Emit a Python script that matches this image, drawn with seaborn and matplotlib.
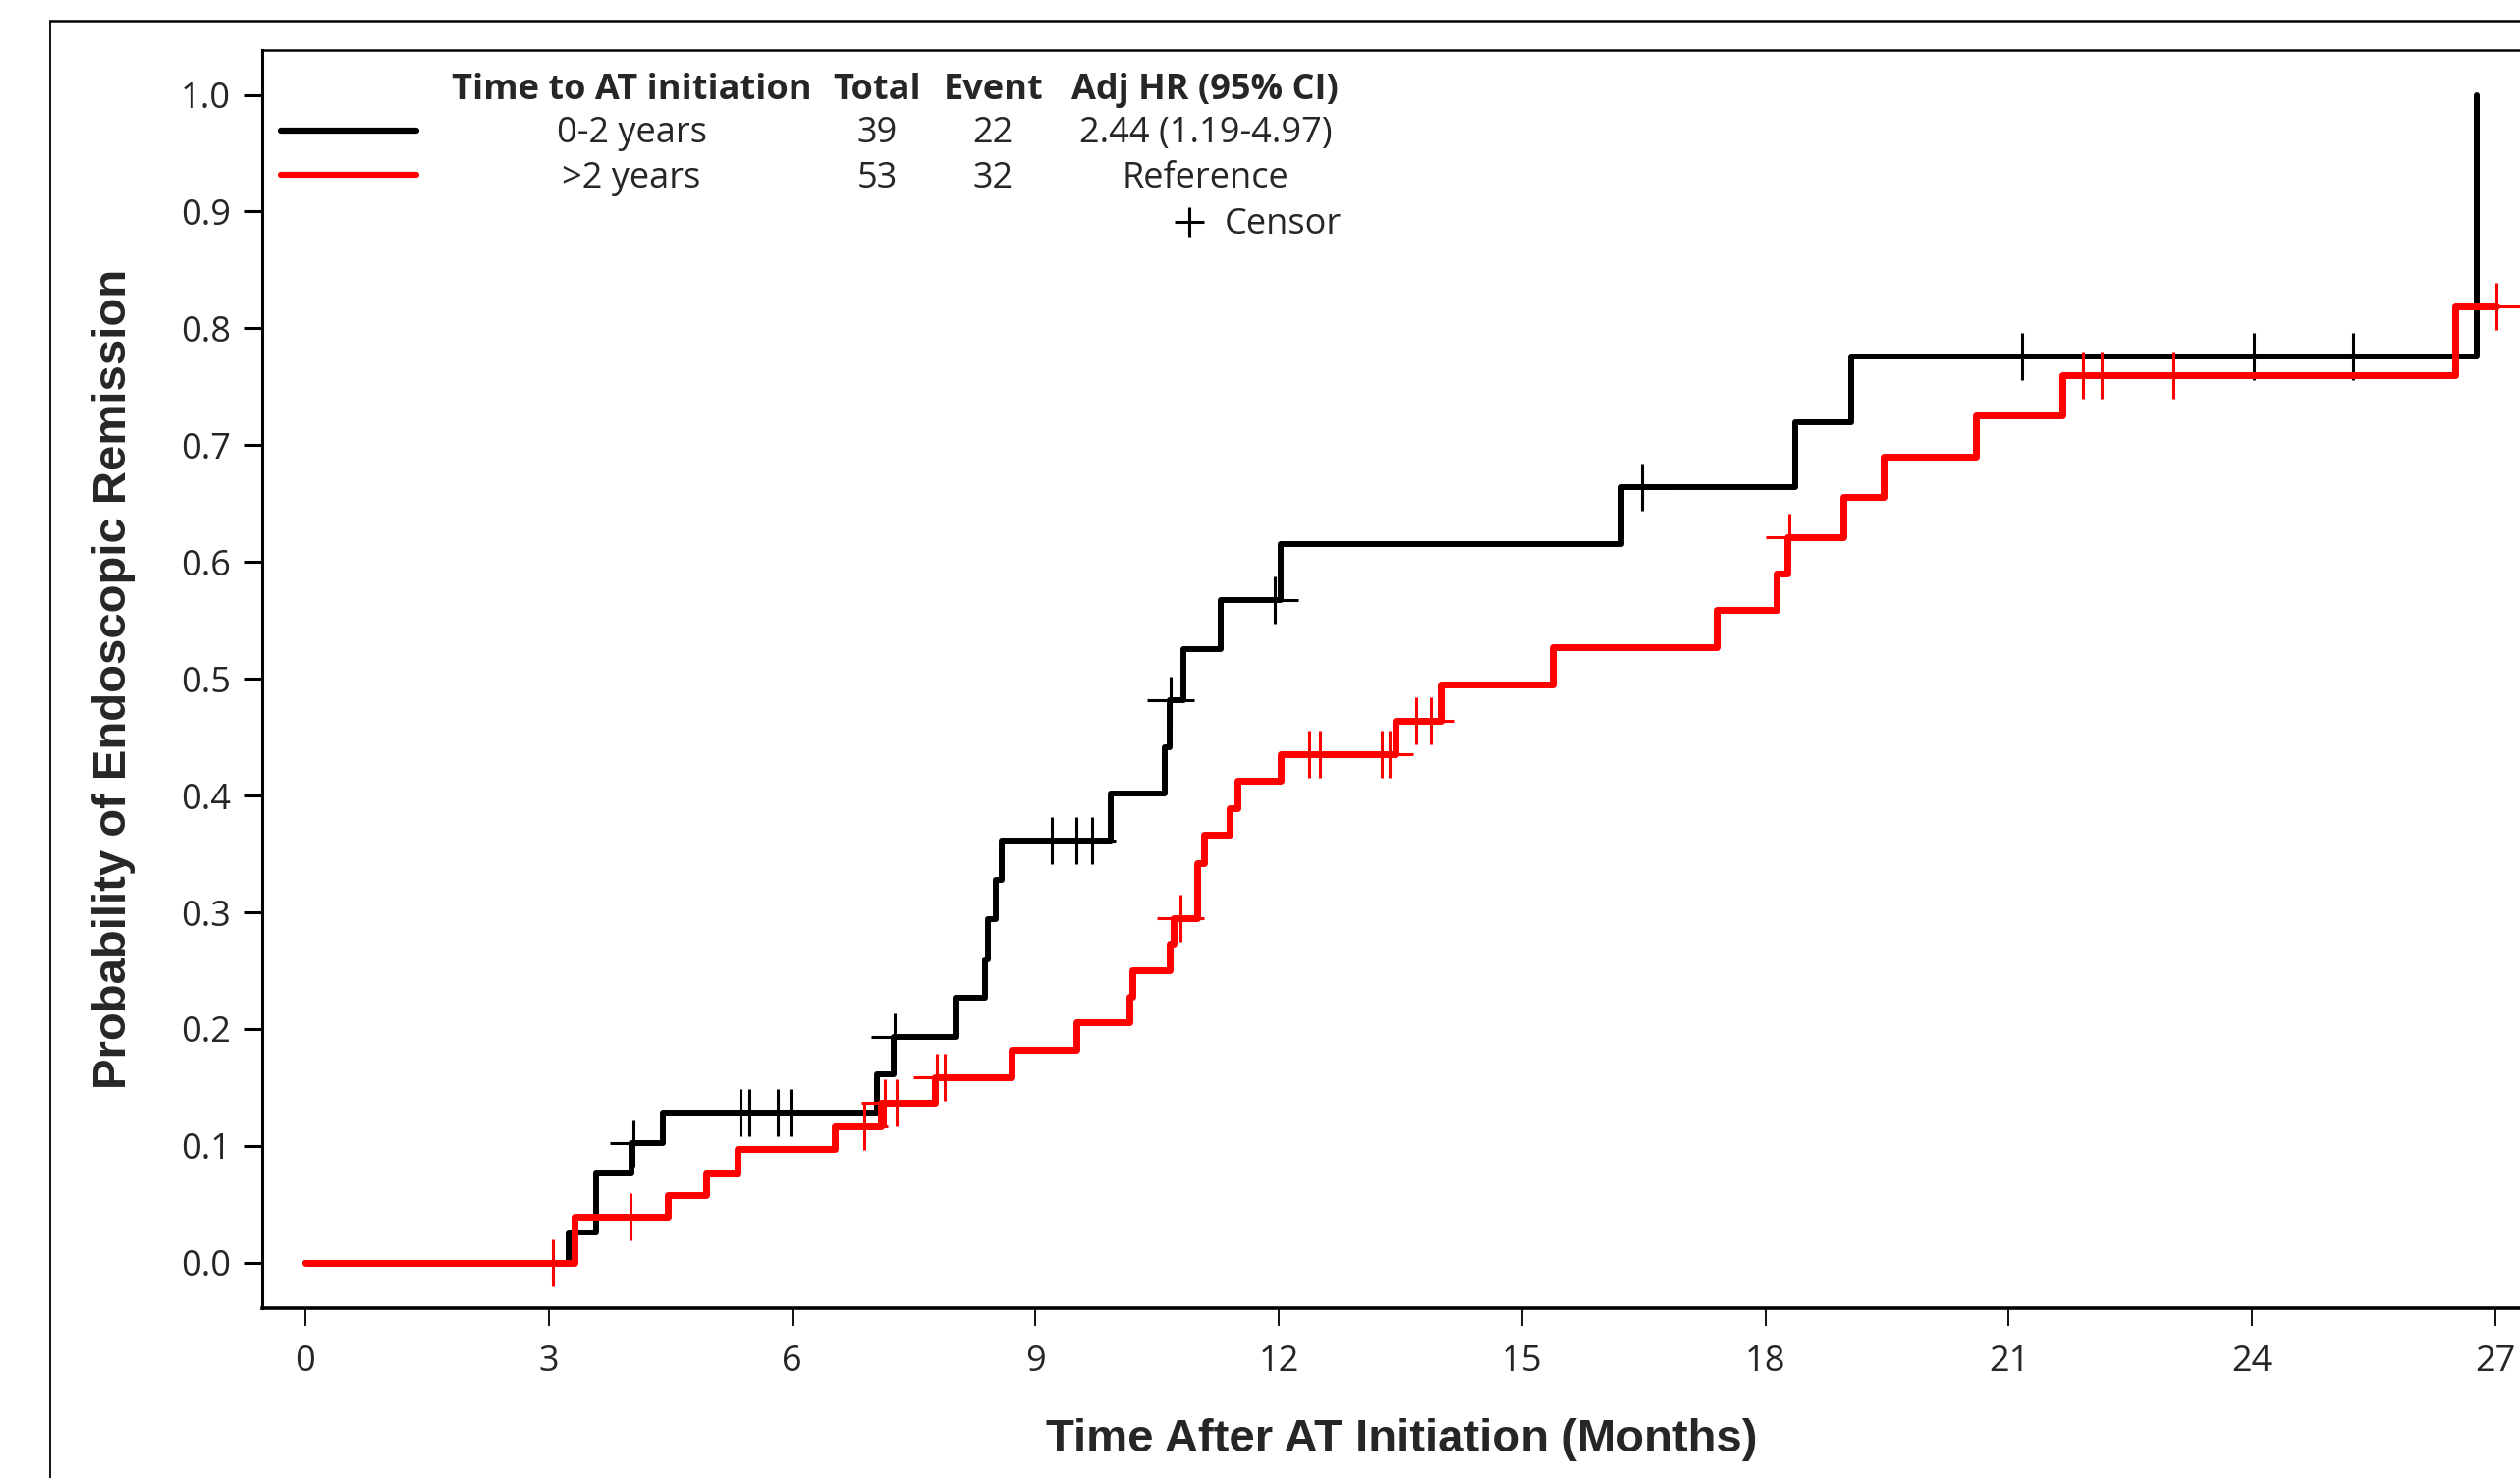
import numpy as np
import pandas as pd
import matplotlib
matplotlib.use("Agg")
import matplotlib.pyplot as plt
from matplotlib.lines import Line2D
import seaborn as sns

# ---------------- data ----------------
groups = ["0-2 years", ">2 years"]

black_times = [0, 3.25, 3.58, 4.02, 4.41, 7.05, 7.25, 8.02, 8.38, 8.41, 8.51, 8.58,
               9.93, 10.60, 10.66, 10.82, 11.29, 12.02, 16.22, 18.37, 19.06, 26.77]
black_prob = [0, 0.026, 0.077, 0.1025, 0.1286, 0.1616, 0.1936, 0.227, 0.260, 0.294,
              0.328, 0.3617, 0.4017, 0.441, 0.4816, 0.525, 0.5676, 0.6155, 0.6637,
              0.7197, 0.7758, 1.0]
black_censor = [4.05, 5.37, 5.47, 5.83, 5.98, 7.26, 9.20, 9.50, 9.70, 10.67, 11.95,
                16.48, 21.17, 24.02, 25.24]

red_times = [0, 3.32, 4.47, 4.94, 5.33, 6.53, 7.09, 7.76, 8.71, 9.50, 10.16, 10.20,
             10.66, 10.70, 10.99, 11.08, 11.39, 11.49, 12.02, 13.44, 14.00, 15.38,
             17.40, 18.14, 18.27, 18.96, 19.46, 20.59, 21.66, 26.50]
red_prob = [0, 0.039, 0.058, 0.0776, 0.097, 0.117, 0.137, 0.159, 0.182, 0.2056, 0.228,
            0.2505, 0.2728, 0.2953, 0.342, 0.3667, 0.389, 0.413, 0.4354, 0.464, 0.4955,
            0.527, 0.5586, 0.590, 0.6216, 0.6558, 0.690, 0.7253, 0.760, 0.819]
red_censor = [3.05, 4.01, 6.89, 7.15, 7.29, 7.79, 7.88, 10.79, 12.37, 12.51, 13.27,
              13.37, 13.70, 13.87, 18.30, 21.91, 22.14, 23.03, 27.01]

legend_header = ["Time to AT initiation", "Total", "Event", "Adj HR (95% CI)"]
legend_rows = [["0-2 years", "39", "22", "2.44 (1.19-4.97)"],
               [">2 years", "53", "32", "Reference"]]

x_ticks = [0, 3, 6, 9, 12, 15, 18, 21, 24, 27]
y_ticks = [0.0, 0.1, 0.2, 0.3, 0.4, 0.5, 0.6, 0.7, 0.8, 0.9, 1.0]
xlabel = "Time After AT Initiation (Months)"
ylabel = "Probability of Endoscopic Remission"

colors = {"0-2 years": "black", ">2 years": "#ff0000"}

# ---------------- build tables ----------------
def curve_table(name, times, prob, cens):
    t = list(times)
    p = list(prob)
    if max(cens) > t[-1]:
        t.append(max(cens))
        p.append(p[-1])
    return pd.DataFrame({"time": t, "prob": p, "group": name})

def censor_table(name, times, prob, cens):
    idx = np.searchsorted(np.array(times), np.array(cens), side="right") - 1
    lev = np.array(prob)[idx]
    return pd.DataFrame({"time": cens, "prob": lev, "group": name})

curves = {
    "0-2 years": curve_table("0-2 years", black_times, black_prob, black_censor),
    ">2 years": curve_table(">2 years", red_times, red_prob, red_censor),
}
censors = {
    "0-2 years": censor_table("0-2 years", black_times, black_prob, black_censor),
    ">2 years": censor_table(">2 years", red_times, red_prob, red_censor),
}

# ---------------- figure ----------------
W, H = 1568.0, 920.0
fig = plt.figure(figsize=(25.66, 15.05), dpi=100)
sns.set_style("white")
plt.rcParams["font.family"] = ["Liberation Sans", "DejaVu Sans"]

ax = fig.add_axes([163 / W, 1 - 814 / H, (1581 - 163) / W, (814 - 31) / H])

lw = {"0-2 years": 4.3, ">2 years": 5.0}
for g in ["0-2 years", ">2 years"]:
    sns.lineplot(data=curves[g], x="time", y="prob", color=colors[g],
                 drawstyle="steps-post", estimator=None, sort=False,
                 linewidth=lw[g], ax=ax, legend=False, zorder=3 if g == ">2 years" else 2)
    sns.scatterplot(data=censors[g], x="time", y="prob", marker="+", s=34 ** 2,
                    color=colors[g], linewidth=2.2, ax=ax, legend=False,
                    zorder=4 if g == ">2 years" else 3)

ax.set_xlim(-0.535, 27.56)
ax.set_ylim(-0.0385, 1.0385)
ax.set_xticks(x_ticks)
ax.set_xticklabels([str(v) for v in x_ticks])
ax.set_yticks(y_ticks)
ax.set_yticklabels([f"{v:.1f}" for v in y_ticks])

tick_font = ["Open Sans", "DejaVu Sans"]
for lab in ax.get_xticklabels() + ax.get_yticklabels():
    lab.set_fontfamily(tick_font)
    lab.set_fontsize(26)
ax.tick_params(axis="x", direction="out", length=13, width=1.3, pad=14, color="black")
ax.tick_params(axis="y", direction="out", length=14, width=2.2, pad=9, color="black")
ax.xaxis.set_ticks_position("bottom")
ax.yaxis.set_ticks_position("left")

for s in ["left", "bottom", "top", "right"]:
    ax.spines[s].set_visible(True)
    ax.spines[s].set_color("black")
ax.spines["left"].set_linewidth(2.2)
ax.spines["bottom"].set_linewidth(2.6)
ax.spines["top"].set_linewidth(1.8)
ax.spines["right"].set_linewidth(1.8)

ax.set_xlabel(xlabel, fontsize=34, fontweight="bold", labelpad=28)
ax.set_ylabel(ylabel, fontsize=34, fontweight="bold", labelpad=33)

# outer frame (image border)
fig.add_artist(Line2D([31 / W, 1.01], [1 - 13 / H, 1 - 13 / H], transform=fig.transFigure,
                      color="black", linewidth=1.8))
fig.add_artist(Line2D([31 / W, 31 / W], [-0.01, 1 - 13 / H], transform=fig.transFigure,
                      color="black", linewidth=1.3))

# ---------------- custom legend table ----------------
col_x = [393, 546, 618, 750]
row_y = [56, 83, 111]
leg_font = ["Open Sans", "DejaVu Sans"]
for cx, txt in zip(col_x, legend_header):
    fig.text(cx / W, 1 - row_y[0] / H, txt, ha="center", va="center", fontsize=26,
             fontweight="bold", family=leg_font)
for r, (row, g) in enumerate(zip(legend_rows, groups)):
    yy = 1 - row_y[r + 1] / H
    for cx, txt in zip(col_x, row):
        fig.text(cx / W, yy, txt, ha="center", va="center", fontsize=26, family=leg_font)
    fig.add_artist(Line2D([175 / W, 259 / W], [1 - (row_y[r + 1] - 2) / H] * 2,
                          transform=fig.transFigure, color=colors[g], linewidth=4.5))

yc = 1 - 140 / H
fig.add_artist(Line2D([740 / W], [1 - 138 / H], transform=fig.transFigure, marker="+",
                      markersize=22, markeredgewidth=2.2, color="black", linestyle="none"))
fig.text(762 / W, yc, "Censor", ha="left", va="center", fontsize=26, family=leg_font)

fig.savefig("out.png", dpi=100)
